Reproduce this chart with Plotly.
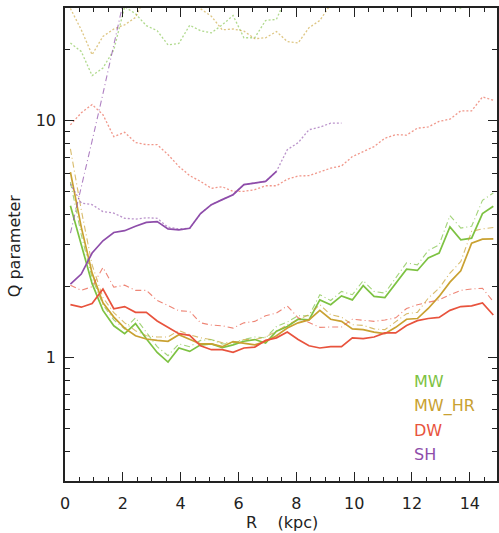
import plotly.graph_objects as go

# Radial bin centres (kpc)
R = [0.1875, 0.5625, 0.9375, 1.3125, 1.6875, 2.0625, 2.4375, 2.8125, 3.1875, 3.5625,
     3.9375, 4.3125, 4.6875, 5.0625, 5.4375, 5.8125, 6.1875, 6.5625, 6.9375, 7.3125,
     7.6875, 8.0625, 8.4375, 8.8125, 9.1875, 9.5625, 9.9375, 10.3125, 10.6875, 11.0625,
     11.4375, 11.8125, 12.1875, 12.5625, 12.9375, 13.3125, 13.6875, 14.0625, 14.4375, 14.8125]

# MW
mw_solid = [4.37, 2.99, 2.05, 1.58, 1.36, 1.26, 1.39, 1.20, 1.05, 0.956,
            1.096, 1.06, 1.13, 1.14, 1.10, 1.13, 1.17, 1.19, 1.15, 1.29,
            1.35, 1.45, 1.44, 1.75, 1.67, 1.82, 1.75, 2.01, 1.81, 1.79,
            2.06, 2.36, 2.33, 2.63, 2.76, 3.56, 3.14, 3.19, 4.05, 4.35]
mw_dashdot = [5.50, 3.30, 2.17, 1.67, 1.44, 1.32, 1.47, 1.27, 1.11, 1.017,
              1.14, 1.11, 1.18, 1.19, 1.14, 1.148, 1.19, 1.22, 1.21, 1.35,
              1.41, 1.50, 1.50, 1.84, 1.74, 1.90, 1.84, 2.11, 1.90, 1.87,
              2.16, 2.51, 2.46, 2.83, 2.99, 3.97, 3.52, 3.58, 4.61, 4.95]
mw_dotted = [21.3, 19.6, 15.5, 16.7, 19.9, 30.3, 28.3, 25.2, 24.0, 20.9,
             21.2, 25.3, 24.0, 23.5, 25.4, 27.8, 22.4, 22.4, 26.5, 26.8,
             34.0, 38.0, 40.0, 42.0, 42.0, 40.0, 40.0, 42.0, 42.0, 40.0,
             40.0, 38.0, 36.0, 35.0, 33.0, 31.5, 29.8, 32.0, 36.0, 38.0]

# MW_HR
hr_solid = [6.06, 3.55, 2.27, 1.70, 1.48, 1.33, 1.235, 1.196, 1.18, 1.17,
            1.247, 1.196, 1.14, 1.14, 1.11, 1.167, 1.15, 1.13, 1.168, 1.235,
            1.33, 1.40, 1.44, 1.58, 1.45, 1.42, 1.32, 1.31, 1.278, 1.26,
            1.34, 1.45, 1.46, 1.61, 1.81, 2.08, 2.32, 3.04, 3.16, 3.17]
hr_dashdot = [7.60, 4.20, 2.46, 1.79, 1.545, 1.40, 1.297, 1.235, 1.22, 1.22,
              1.30, 1.247, 1.21, 1.19, 1.153, 1.157, 1.19, 1.19, 1.22, 1.288,
              1.375, 1.44, 1.515, 1.67, 1.515, 1.48, 1.375, 1.366, 1.32, 1.31,
              1.42, 1.53, 1.55, 1.78, 1.96, 2.27, 2.54, 3.41, 3.49, 3.54]
hr_dotted = [29.8, 24.2, 19.0, 22.7, 24.4, 25.4, 27.3, 34.0, 37.0, 37.0,
             35.0, 32.0, 29.7, 27.6, 24.2, 24.4, 23.9, 22.2, 22.4, 23.8,
             21.6, 21.3, 24.7, 26.5, 31.0, 35.0, 36.0, 38.0, 40.0, 40.0,
             40.0, 40.0, 40.0, 40.0, 40.0, 40.0, 40.0, 40.0, 40.0, 40.0]

# DW
dw_solid = [1.67, 1.63, 1.69, 1.945, 1.606, 1.64, 1.55, 1.55, 1.425, 1.34,
            1.26, 1.24, 1.12, 1.078, 1.078, 1.05, 1.096, 1.106, 1.18, 1.21,
            1.28, 1.19, 1.12, 1.096, 1.11, 1.11, 1.21, 1.20, 1.22, 1.27,
            1.27, 1.365, 1.43, 1.46, 1.476, 1.58, 1.64, 1.65, 1.70, 1.51]
dw_dashdot = [2.02, 1.92, 1.99, 2.40, 1.98, 2.02, 1.92, 1.92, 1.74, 1.65,
              1.575, 1.565, 1.40, 1.37, 1.36, 1.33, 1.40, 1.42, 1.50, 1.54,
              1.65, 1.47, 1.40, 1.34, 1.344, 1.344, 1.45, 1.44, 1.42, 1.44,
              1.47, 1.61, 1.67, 1.71, 1.75, 1.84, 1.92, 1.945, 1.96, 1.72]
dw_dotted = [9.6, 10.8, 11.7, 10.6, 8.56, 8.93, 8.09, 7.92, 7.92, 7.19,
             6.41, 5.86, 5.54, 5.18, 5.26, 5.03, 5.03, 5.11, 5.31, 5.31,
             5.66, 5.84, 5.86, 6.09, 6.30, 6.44, 7.05, 7.40, 7.77, 8.43,
             8.73, 8.69, 9.30, 9.41, 9.93, 10.15, 11.0, 11.0, 12.6, 12.2]

# SH
sh_solid = [2.04, 2.25, 2.76, 3.11, 3.37, 3.43, 3.58, 3.72, 3.75, 3.49,
            3.46, 3.51, 4.05, 4.42, 4.64, 4.87, 5.37, 5.47, 5.54, 6.11]
sh_dashdot = [3.35, 5.18, 8.22, 13.0, 20.5, 33.4, 54.0]
sh_dotted = [5.41, 4.49, 4.42, 4.13, 4.07, 3.87, 3.84, 3.89, 3.87, 3.55,
             3.49, 3.51, 4.05, 4.42, 4.64, 4.87, 5.37, 5.47, 5.54, 6.11,
             7.54, 8.07, 9.16, 9.39, 9.76, 9.76]

labels = ["MW", "MW_HR", "DW", "SH"]
colors = ["#7DC242", "#C9A131", "#E8533D", "#8E4DAA"]

series = [
    (mw_solid, mw_dashdot, mw_dotted),
    (hr_solid, hr_dashdot, hr_dotted),
    (dw_solid, dw_dashdot, dw_dotted),
    (sh_solid, sh_dashdot, sh_dotted),
]

fig = go.Figure()
for (solid, dashdot, dotted), col, name in zip(series, colors, labels):
    fig.add_trace(go.Scatter(x=R[:len(dotted)], y=dotted, mode="lines", opacity=0.6,
                             line=dict(color=col, width=1.3, dash="2px,2px"),
                             showlegend=False, hoverinfo="skip"))
    fig.add_trace(go.Scatter(x=R[:len(dashdot)], y=dashdot, mode="lines", opacity=0.7,
                             line=dict(color=col, width=1.1, dash="6px,3px,1px,3px"),
                             showlegend=False, hoverinfo="skip"))
    fig.add_trace(go.Scatter(x=R[:len(solid)], y=solid, mode="lines",
                             line=dict(color=col, width=1.7), name=name,
                             showlegend=False))

font = "DejaVu Sans"
tick_col = "#222222"

x_major = [0, 2, 4, 6, 8, 10, 12, 14]
x_minor = [v / 2 for v in range(0, 30)]
y_major = [1, 10]
y_minor = [0.3, 0.4, 0.5, 0.6, 0.7, 0.8, 0.9, 2, 3, 4, 5, 6, 7, 8, 9, 20, 30]

fig.update_xaxes(range=[0, 14.94], showgrid=False, zeroline=False,
                 showline=True, linecolor=tick_col, linewidth=1.5, mirror="allticks",
                 ticks="inside", ticklen=9, tickwidth=1, tickcolor=tick_col,
                 tickmode="array", tickvals=x_major, ticktext=[str(v) for v in x_major],
                 tickfont=dict(family=font, size=16, color="#222"),
                 ticklabelstandoff=7,
                 minor=dict(tickmode="array", tickvals=x_minor, ticks="inside",
                            ticklen=4, tickwidth=1, tickcolor=tick_col, showgrid=False))
fig.update_yaxes(type="log", range=[-0.522, 1.476], showgrid=False, zeroline=False,
                 showline=True, linecolor=tick_col, linewidth=1.5, mirror="allticks",
                 ticks="inside", ticklen=9, tickwidth=1, tickcolor=tick_col,
                 tickmode="array", tickvals=y_major, ticktext=["1", "10"],
                 tickfont=dict(family=font, size=16, color="#222"),
                 ticklabelstandoff=4,
                 minor=dict(tickmode="array", tickvals=y_minor, ticks="inside",
                            ticklen=5, tickwidth=1, tickcolor=tick_col, showgrid=False))

H, W = 533, 499
L, B, T, Rm = 65, 52, 8, 0
pw, ph = W - L - Rm, H - B - T

annotations = []
legend_y = [381, 405.5, 430, 454.5]
for name, col, yy in zip(labels, colors, legend_y):
    annotations.append(dict(text=name, x=(414 - L) / pw, y=(H - yy - B) / ph,
                            xref="paper", yref="paper",
                            xanchor="left", yanchor="middle", showarrow=False,
                            font=dict(family=font, size=16, color=col)))
annotations.append(dict(text="R\u00a0\u00a0\u00a0\u00a0(kpc)", x=(283 - L) / pw,
                        y=(H - 522 - B) / ph,
                        xref="paper", yref="paper", xanchor="center", yanchor="middle",
                        showarrow=False, font=dict(family=font, size=16, color="#222")))
annotations.append(dict(text="Q parameter", x=(15 - L) / pw, y=(H - 246 - B) / ph,
                        xref="paper", yref="paper", xanchor="center", yanchor="middle",
                        textangle=-90, showarrow=False,
                        font=dict(family=font, size=16, color="#222")))

fig.update_layout(width=W, height=H, margin=dict(l=L, r=Rm, t=T, b=B, pad=0),
                  plot_bgcolor="white", paper_bgcolor="white",
                  annotations=annotations, showlegend=False)

fig.write_html("out.html")
